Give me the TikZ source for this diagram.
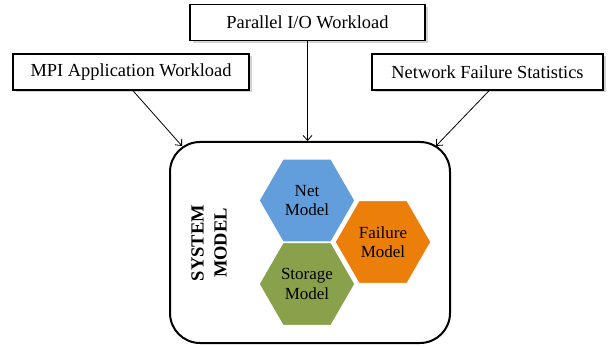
\documentclass[tikz,border=0pt]{standalone}
\usepackage{fontspec}
\setmainfont{Liberation Serif}
\usetikzlibrary{arrows.meta, shapes.geometric, shadows, positioning}
\definecolor{netblue}{RGB}{99,158,220}
\definecolor{failorange}{RGB}{236,126,10}
\definecolor{storgreen}{RGB}{138,161,76}
\tikzset{
	line width = .75pt,
	>={Straight Barb[length=5pt,width=9pt]},
	inbox/.style={
		draw,
		fill=white,
		line width=1.5pt,
		minimum height=36pt,
		inner sep=0pt,
		font=\fontsize{18.4}{22}\selectfont,
		drop shadow={shadow xshift=2.5pt, shadow yshift=-2.5pt, opacity=.35}
	},
	hexa/.style={
		regular polygon,
		regular polygon sides=6,
		minimum size=96pt,
		inner sep=0pt,
		draw=white,
		line width=1.2pt,
		align=center,
		font=\fontsize{17}{19.5}\selectfont
	},
	edge/.style={
		->,
		line width=.8pt
	}
}
\begin{document}
\begin{tikzpicture}[x=1pt, y=-1pt]
	\useasboundingbox (0,0) rectangle (609,347);

	\node[inbox, minimum width=235pt] (pio) at (307.5,22.5) {Parallel I/O Workload};
	\node[inbox, minimum width=236pt] (mpi) at (131,72) {MPI Application Workload};
	\node[inbox, minimum width=231pt] (nfs) at (487.5,72) {Network Failure Statistics};

	\node[draw, line width=2pt, rounded corners=30pt, minimum width=280pt, minimum height=201pt] (sys) at (310,242.5) {};
	\node[rotate=90, align=center, font=\fontsize{18.5}{23}\selectfont\bfseries] (title) at (209,243) {SYSTEM\\MODEL};

	\node[hexa, fill=netblue] (net) at (307,200.5) {Net\\Model};
	\node[hexa, fill=failorange] (fail) at (383,242) {Failure\\Model};
	\node[hexa, fill=storgreen] (stor) at (307,284) {Storage\\Model};

	\draw[edge] ([xshift=2pt]mpi.south) to ([xshift=13pt,yshift=-5pt]sys.north west);
	\draw[edge] (pio.south) to (pio.south |- sys.north);
	\draw[edge] ([xshift=1.5pt]nfs.south) to ([xshift=-15pt,yshift=-5pt]sys.north east);
\end{tikzpicture}
\end{document}
